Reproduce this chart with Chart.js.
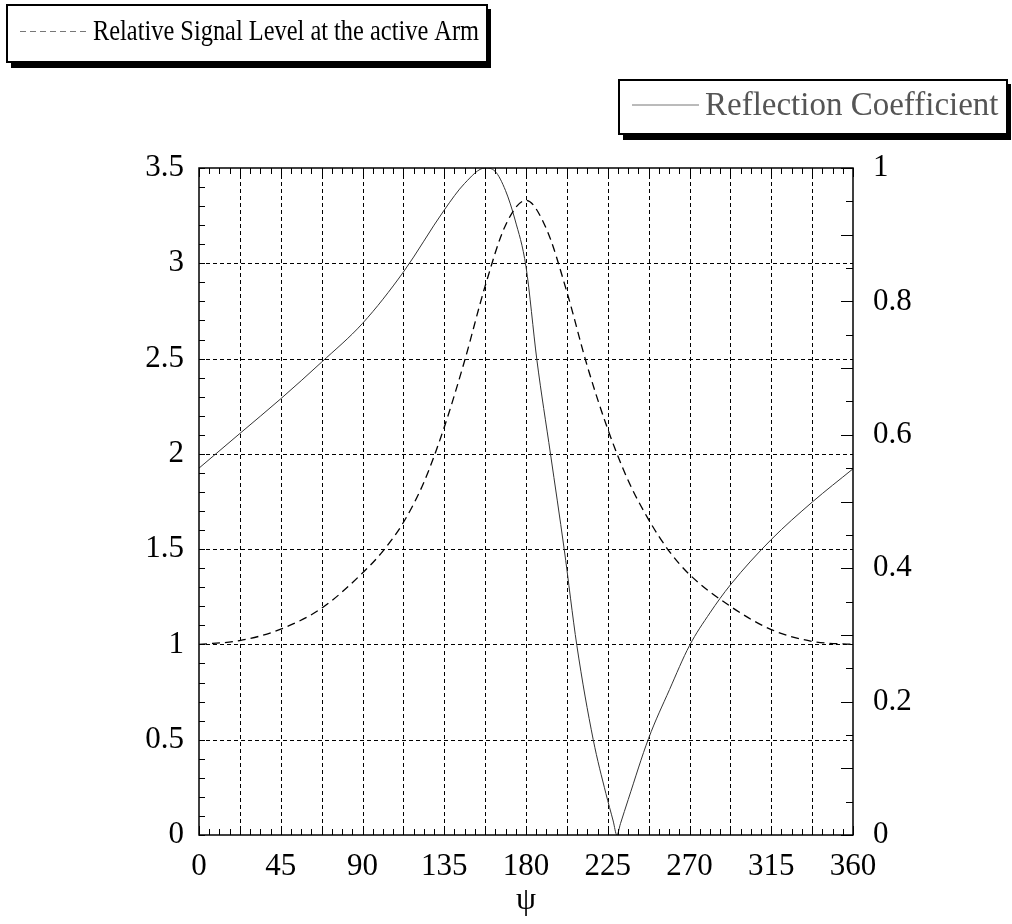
<!DOCTYPE html>
<html>
<head>
<meta charset="utf-8">
<script src="https://cdn.jsdelivr.net/npm/chart.js@4.4.1/dist/chart.umd.min.js"></script>
<style>
  html, body { margin: 0; padding: 0; background: #fff; }
  #wrap { width: 1012px; height: 924px; }
</style>
</head>
<body>
<div id="wrap"><canvas id="chart" width="1012" height="924"></canvas></div>
<script>
// psi in degrees
const psiSignal = [0, 22.5, 45, 67.5, 90, 101.25, 112.5, 123.75, 135, 146.25, 157.5, 168.75, 180,
  191.25, 202.5, 213.75, 225, 236.25, 247.5, 258.75, 270, 292.5, 315, 337.5, 360];
const signalLevel = [1.00, 1.02, 1.08, 1.19, 1.375, 1.49, 1.64, 1.85, 2.14, 2.49, 2.88, 3.20, 3.33,
  3.18, 2.85, 2.46, 2.13, 1.86, 1.655, 1.49, 1.367, 1.20, 1.078, 1.016, 1.00];

const psiRefl = [0, 22.5, 45, 67.5, 90, 112.5, 135, 146.25, 157.5, 163, 168.75, 174, 180, 186,
  193.5, 201, 208, 217, 224, 228, 230, 232, 236.25, 247.5, 259, 270, 281.25, 292.5, 315, 337.5, 360];
const reflCoeff = [0.55, 0.602, 0.654, 0.709, 0.767, 0.844, 0.937, 0.977, 1.0, 0.995, 0.966, 0.922,
  0.852, 0.712, 0.571, 0.429, 0.284, 0.143, 0.062, 0.021, 0, 0.017, 0.053, 0.145, 0.218, 0.284, 0.333,
  0.375, 0.443, 0.499, 0.549];

const xTicks = [0, 45, 90, 135, 180, 225, 270, 315, 360];
const leftTicks = [0, 0.5, 1, 1.5, 2, 2.5, 3, 3.5];
const rightTicks = [0, 0.2, 0.4, 0.6, 0.8, 1];

const serif = '"Liberation Serif", "Times New Roman", serif';

const toPts = (xs, ys) => xs.map((x, i) => ({ x: x, y: ys[i] }));

// grid, frame and small ticks, all from the scales
const framePlugin = {
  id: 'frame',
  beforeDatasetsDraw(chart) {
    const { ctx, chartArea: a, scales } = chart;
    ctx.save();
    ctx.strokeStyle = '#000';
    ctx.lineWidth = 1;
    ctx.setLineDash([4, 3]);
    for (let v = 22.5; v < 360; v += 22.5) {
      const px = Math.round(scales.x.getPixelForValue(v)) + 0.5;
      ctx.beginPath(); ctx.moveTo(px, a.top); ctx.lineTo(px, a.bottom); ctx.stroke();
    }
    leftTicks.slice(1, -1).forEach(v => {
      const py = Math.round(scales.y.getPixelForValue(v)) + 0.5;
      ctx.beginPath(); ctx.moveTo(a.left, py); ctx.lineTo(a.right, py); ctx.stroke();
    });
    ctx.restore();
  },
  afterDatasetsDraw(chart) {
    const { ctx, chartArea: a, scales } = chart;
    ctx.save();
    ctx.strokeStyle = '#000';
    ctx.lineWidth = 1;
    ctx.setLineDash([]);
    ctx.beginPath();
    for (let i = 0; i <= 64; i++) {
      const px = Math.round(scales.x.getPixelForValue(i * 5.625)) + 0.5;
      const len = i % 4 === 0 ? 9 : 6;
      ctx.moveTo(px, a.bottom); ctx.lineTo(px, a.bottom - len);
      ctx.moveTo(px, a.top); ctx.lineTo(px, a.top + len);
    }
    for (let i = 0; i <= 35; i++) {
      const py = Math.round(scales.y.getPixelForValue(i * 0.1)) + 0.5;
      ctx.moveTo(a.left, py); ctx.lineTo(a.left + 6, py);
    }
    for (let i = 0; i <= 20; i++) {
      const py = Math.round(scales.y2.getPixelForValue(i * 0.05)) + 0.5;
      const len = i % 2 === 0 ? 12 : 7;
      ctx.moveTo(a.right, py); ctx.lineTo(a.right - len, py);
    }
    ctx.stroke();
    ctx.lineWidth = 1.5;
    ctx.strokeRect(a.left, a.top, a.right - a.left, a.bottom - a.top);
    ctx.restore();
  }
};

// the two boxed legends with a drop shadow
function legendBox(ctx, x, y, w, h, ds, textColor, fontSize, textW) {
  ctx.fillStyle = '#000';
  ctx.fillRect(x + 4, y + 4, w, h + 2);
  ctx.fillStyle = '#fff';
  ctx.fillRect(x, y, w, h);
  ctx.lineWidth = 2;
  ctx.strokeStyle = '#000';
  ctx.strokeRect(x, y, w, h);
  const my = y + h / 2 - 2;
  ctx.lineWidth = 1;
  ctx.strokeStyle = '#777';
  ctx.setLineDash(ds.borderDash ? [6, 4] : []);
  ctx.beginPath(); ctx.moveTo(x + 13, my); ctx.lineTo(x + 80, my); ctx.stroke();
  ctx.setLineDash([]);
  ctx.fillStyle = textColor;
  ctx.font = fontSize + 'px ' + serif;
  ctx.textBaseline = 'middle';
  ctx.textAlign = 'left';
  const natural = ctx.measureText(ds.label).width;
  ctx.save();
  ctx.translate(x + 86, my + 1);
  ctx.scale(Math.min(1, textW / natural), 1);
  ctx.fillText(ds.label, 0, 0);
  ctx.restore();
}

const legendPlugin = {
  id: 'boxLegend',
  afterDraw(chart) {
    const ctx = chart.ctx;
    const sets = chart.data.datasets;
    ctx.save();
    legendBox(ctx, 7, 5, 480, 57, sets[0], '#000', 29, 386);
    legendBox(ctx, 619, 80, 388, 54, sets[1], '#555', 33, 296);
    ctx.restore();
  }
};

const tickFont = { family: serif, size: 31 };

new Chart(document.getElementById('chart'), {
  type: 'line',
  data: {
    datasets: [{
      label: 'Relative Signal Level at the active Arm',
      data: toPts(psiSignal, signalLevel),
      yAxisID: 'y',
      borderColor: '#000',
      borderWidth: 1.3,
      borderDash: [8, 5],
      pointRadius: 0,
      cubicInterpolationMode: 'monotone'
    }, {
      label: 'Reflection Coefficient',
      data: toPts(psiRefl, reflCoeff),
      yAxisID: 'y2',
      borderColor: '#333',
      borderWidth: 1,
      pointRadius: 0,
      cubicInterpolationMode: 'monotone'
    }]
  },
  options: {
    responsive: false,
    animation: false,
    layout: { padding: { top: 168, left: 0, right: 0, bottom: 0 } },
    plugins: { legend: { display: false }, tooltip: { enabled: false } },
    scales: {
      x: {
        type: 'linear', min: 0, max: 360,
        afterBuildTicks: s => { s.ticks = xTicks.map(v => ({ value: v })); },
        afterFit: s => { s.height = 89; },
        grid: { display: false },
        border: { display: false },
        ticks: { color: '#000', font: tickFont, padding: 5, maxRotation: 0, autoSkip: false,
          callback: v => String(v) },
        title: { display: true, text: 'ψ', color: '#000', font: { family: serif, size: 32 }, padding: { top: 0, bottom: 4 } }
      },
      y: {
        type: 'linear', position: 'left', min: 0, max: 3.5,
        afterBuildTicks: s => { s.ticks = leftTicks.map(v => ({ value: v })); },
        afterFit: s => { s.width = 199; },
        grid: { display: false },
        border: { display: false },
        ticks: { color: '#000', font: tickFont, padding: 7, callback: v => String(v) }
      },
      y2: {
        type: 'linear', position: 'right', min: 0, max: 1,
        afterBuildTicks: s => { s.ticks = rightTicks.map(v => ({ value: v })); },
        afterFit: s => { s.width = 159; },
        grid: { display: false },
        border: { display: false },
        ticks: { color: '#000', font: tickFont, padding: 12,
          callback: v => String(+v.toFixed(1)) }
      }
    }
  },
  plugins: [framePlugin, legendPlugin]
});
</script>
</body>
</html>
